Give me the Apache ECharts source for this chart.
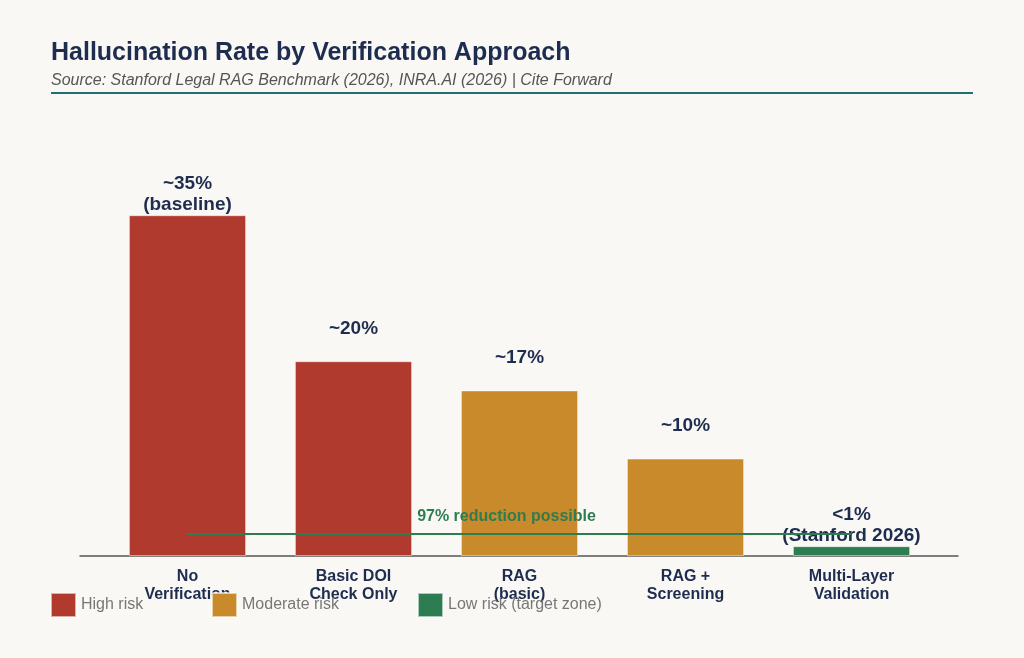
<!DOCTYPE html>
<html lang="en">
<head>
	<meta charset="UTF-8">
	<title>Hallucination Rate by Verification Approach</title>
	<script src="https://cdn.jsdelivr.net/npm/echarts@6/dist/echarts.min.js"></script>
	<style>
		html,body{height:100%;margin:0;background:#f9f8f5;}
	</style>
</head>
<body>
	<div id="chart" style="width:1024px; height:658px;"></div>
	<script>
	// data
	var categories = ['No\nVerification', 'Basic DOI\nCheck Only', 'RAG\n(basic)', 'RAG +\nScreening', 'Multi-Layer\nValidation'];
	var rates = [35, 20, 17, 10, 1];
	var rateLabels = ['~35%\n(baseline)', '~20%', '~17%', '~10%', '<1%\n(Stanford 2026)'];
	var risk = ['high', 'high', 'moderate', 'moderate', 'low'];
	var riskNames = {high: 'High risk', moderate: 'Moderate risk', low: 'Low risk (target zone)'};
	var riskColors = {high: '#b03a2e', moderate: '#c98a2b', low: '#2e7d52'};
	var reductionY = 2.25;  // annotation line height
	var reductionText = '97% reduction possible';

	var navy = '#1e2d4f';

	// one series per risk level, stacked so the bars line up on the category slots
	function makeSeries(level, idx) {
		var items = rates.map(function (v, i) {
			if (risk[i] != level) return '-';
			var twoLines = rateLabels[i].indexOf('\n') >= 0;
			return {
				value: v,
				label: {distance: twoLines ? 0 : 22, formatter: rateLabels[i]}
			};
		});
		var s = {
			name: riskNames[level],
			type: 'bar',
			stack: 'all',
			barWidth: 117,
			data: items,
			itemStyle: {color: riskColors[level], borderColor: 'rgba(255,255,255,0.6)', borderWidth: 0.8},
			label: {
				show: true,
				position: 'top',
				color: navy,
				fontSize: 19,
				fontWeight: 'bold',
				lineHeight: 21,
				fontFamily: 'Liberation Sans'
			},
			silent: true
		};
		if (level == 'low') {
			s.markLine = {
				symbol: ['none', 'none'],
				silent: true,
				lineStyle: {color: '#2e7d52', width: 2, type: 'solid'},
				label: {
					show: true,
					position: 'middle',
					distance: 10,
					offset: [-13, 0],
					formatter: reductionText,
					color: '#2e7d52',
					fontSize: 16,
					fontWeight: 'bold',
					fontFamily: 'Liberation Sans'
				},
				data: [[{coord: [0, reductionY]}, {coord: [categories.length - 1, reductionY]}]]
			};
		}
		return s;
	}

	var levels = ['high', 'moderate', 'low'];
	var series = levels.map(makeSeries);

	var legendLeft = [45, 206, 412];
	var legends = levels.map(function (level, i) {
		return {
			data: [riskNames[level]],
			left: legendLeft[i],
			top: 587,
			itemWidth: 25,
			itemHeight: 24,
			icon: 'rect',
			textStyle: {color: '#777', fontSize: 16, fontFamily: 'Liberation Sans'}
		};
	});

	var option = {
		backgroundColor: '#f9f8f5',
		animation: false,
		title: [{
			text: 'Hallucination Rate by Verification Approach',
			left: 46, top: 36,
			textStyle: {color: navy, fontSize: 25, fontWeight: 'bold', fontFamily: 'Liberation Sans'}
		}, {
			text: 'Source: Stanford Legal RAG Benchmark (2026), INRA.AI (2026) | Cite Forward',
			left: 46, top: 68,
			textStyle: {color: '#555', fontSize: 16, fontStyle: 'italic', fontWeight: 'normal', fontFamily: 'Liberation Sans'}
		}],
		graphic: [{
			type: 'line',
			shape: {x1: 51, y1: 93, x2: 973, y2: 93},
			style: {stroke: '#1f6f74', lineWidth: 2}
		}],
		legend: legends,
		grid: [
			{left: 104.5, width: 830, top: 118, bottom: 102},
			{left: 80, right: 66, top: 118, bottom: 102}
		],
		xAxis: [{
			type: 'category',
			gridIndex: 0,
			data: categories,
			axisLine: {show: false},
			axisTick: {show: false},
			axisLabel: {
				color: navy, fontSize: 16, fontWeight: 'bold', lineHeight: 18, margin: 12,
				fontFamily: 'Liberation Sans', interval: 0
			}
		}, {
			type: 'value',
			gridIndex: 1,
			min: 0, max: 1,
			axisLine: {show: true, lineStyle: {color: '#555', width: 1.5}},
			axisTick: {show: false},
			axisLabel: {show: false},
			splitLine: {show: false}
		}],
		yAxis: [{
			type: 'value',
			gridIndex: 0,
			min: 0, max: 45,
			show: false
		}, {
			type: 'value',
			gridIndex: 1,
			min: 0, max: 45,
			show: false
		}],
		series: series
	};

	var myChart = echarts.init(document.getElementById('chart'));
	myChart.setOption(option);
	</script>
</body>
</html>
